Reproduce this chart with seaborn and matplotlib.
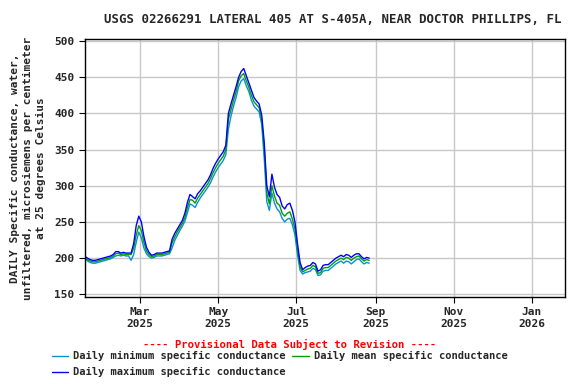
import numpy as np
import pandas as pd
import matplotlib
matplotlib.use("Agg")
import matplotlib.pyplot as plt
from matplotlib.lines import Line2D
import seaborn as sns

TITLE = "USGS 02266291 LATERAL 405 AT S-405A, NEAR DOCTOR PHILLIPS, FL"
YLABEL = ("DAILY Specific conductance, water,\n"
          "unfiltered, microsiemens per centimeter\n"
          "at 25 degrees Celsius")

# readings every second day, 2025-01-17 .. 2025-08-27
dates = pd.date_range("2025-01-17", periods=112, freq="2D")

cond_mean = [
    200, 198, 196, 195, 195, 196, 197, 198, 199, 200,
    201, 203, 206, 207, 205, 206, 205, 205, 205, 214,
    232, 245, 238, 222, 210, 205, 202, 203, 205, 205,
    205, 206, 207, 208, 221, 229, 236, 242, 248, 256,
    270, 281, 280, 276, 283, 288, 293, 298, 303, 310,
    318, 325, 331, 336, 341, 350, 392, 405, 418, 430,
    445, 452, 455, 445, 436, 425, 416, 412, 408, 392,
    350, 290, 275, 300, 286, 276, 273, 262, 258, 262,
    264, 254, 240, 212, 188, 181, 183, 185, 186, 190,
    188, 179, 180, 186, 187, 187, 190, 193, 196, 198,
    200, 198, 201, 200, 197, 200, 202, 203, 199, 196,
    198, 197,
]
cond_max = [
    202, 200, 198, 197, 197, 198, 199, 200, 201, 202,
    203, 205, 209, 209, 207, 208, 207, 207, 207, 220,
    245, 258, 250, 230, 215, 208, 204, 205, 207, 207,
    207, 208, 209, 210, 226, 234, 240, 246, 252, 262,
    277, 288, 285, 282, 289, 293, 298, 303, 308, 315,
    324, 331, 337, 342, 347, 356, 400, 413, 425, 437,
    450, 458, 462, 452, 442, 432, 422, 417, 413, 398,
    360, 300, 285, 316, 298, 288, 284, 272, 268, 274,
    276, 266, 250, 220, 194, 184, 187, 189, 190, 194,
    192, 182, 184, 190, 191, 191, 194, 197, 200, 202,
    204, 202, 205, 204, 201, 204, 206, 206, 202, 199,
    201, 200,
]
cond_min = [
    199, 196, 194, 193, 193, 194, 195, 196, 197, 198,
    199, 201, 203, 204, 203, 204, 203, 203, 197, 205,
    222, 236, 228, 214, 206, 202, 200, 201, 203, 203,
    203, 204, 205, 206, 214, 224, 231, 238, 244, 251,
    263, 275, 273, 270, 277, 283, 288, 293, 298, 304,
    312, 319, 325, 330, 335, 343, 378, 396, 410, 422,
    437, 445, 448, 438, 430, 418, 410, 406, 402, 385,
    338, 278, 266, 290, 276, 268, 264, 255, 250, 254,
    255, 246, 232, 205, 183, 178, 180, 181, 182, 186,
    184, 176, 177, 182, 183, 183, 186, 189, 192, 194,
    196, 193, 196, 195, 192, 195, 198, 199, 195, 192,
    194, 193,
]

SERIES = {
    "Daily minimum specific conductance": (cond_min, "#0a8fd8"),
    "Daily mean specific conductance": (cond_mean, "#00a000"),
    "Daily maximum specific conductance": (cond_max, "#0000ff"),
}

sns.set_style("ticks")
plt.rcParams["font.family"] = ["DejaVu Sans Mono"]
plt.rcParams["font.weight"] = "bold"

fig = plt.figure(figsize=(5.76, 3.84), dpi=100)
ax = fig.add_axes([0.1476, 0.2273, 0.8334, 0.6704])

for name, (vals, col) in SERIES.items():
    sns.lineplot(x=dates, y=vals, ax=ax, color=col, linewidth=1,
                 label=name, legend=False)

ax.set_xlim(pd.Timestamp("2025-01-17"), pd.Timestamp("2026-01-27"))
ax.set_ylim(146.7, 502.4)
ax.set_yticks([150, 200, 250, 300, 350, 400, 450, 500])
ticks = pd.to_datetime(["2025-03-01", "2025-05-01", "2025-07-01",
                        "2025-09-01", "2025-11-01", "2026-01-01"])
ax.set_xticks(ticks)
ax.set_xticklabels([d.strftime("%b\n%Y") for d in ticks])
ax.grid(True, color="#c8c8c8", linewidth=1)
ax.tick_params(labelsize=8, length=4, color="black")
for s in ax.spines.values():
    s.set_linewidth(1)
    s.set_color("black")

ax.set_ylabel(YLABEL, fontsize=8, fontweight="bold", linespacing=1.35,
              labelpad=6)
ax.set_xlabel("")
fig.text(0.577, 0.95, TITLE, ha="center", va="center",
         fontsize=8.9, fontweight="bold")

fig.text(0.502, 0.095, "---- Provisional Data Subject to Revision ----",
         color="red", ha="center", fontsize=7.7, fontweight="bold")

handles = [Line2D([], [], color=SERIES[n][1], linewidth=1) for n in SERIES]
names = list(SERIES)
order = [0, 2, 1]
fig.legend([handles[i] for i in order], [names[i] for i in order],
           loc="upper left", bbox_to_anchor=(0.09, 0.085), ncol=2,
           frameon=False, fontsize=7.5, handlelength=1.55, handletextpad=0.5,
           columnspacing=0.65, labelspacing=0.55, borderaxespad=0, borderpad=0)

fig.savefig("out.png", dpi=100)
